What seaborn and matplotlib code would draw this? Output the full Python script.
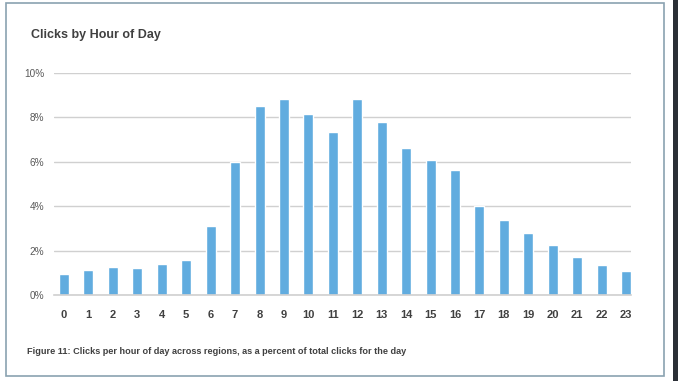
import matplotlib
matplotlib.use("Agg")
import matplotlib.pyplot as plt
from matplotlib.patches import Rectangle
from matplotlib.ticker import FuncFormatter
import pandas as pd
import seaborn as sns

# data
hours = list(range(24))
clicks_pct = [0.96, 1.13, 1.26, 1.23, 1.38, 1.58, 3.11, 6.0, 8.5, 8.84, 8.17, 7.34,
              8.84, 7.79, 6.62, 6.07, 5.63, 4.01, 3.38, 2.78, 2.27, 1.71, 1.34, 1.08]
y_ticks = [0, 2, 4, 6, 8, 10]

title = "Clicks by Hour of Day"
caption = "Figure 11: Clicks per hour of day across regions, as a percent of total clicks for the day"

df = pd.DataFrame({"hour": hours, "pct": clicks_pct})

sns.set_style("white")
plt.rcParams["font.family"] = ["Liberation Sans", "DejaVu Sans"]

fig = plt.figure(figsize=(6.78, 3.81), dpi=100)
ax = fig.add_axes([54 / 678, 1 - 295 / 381, (631 - 54) / 678, (295 - 73) / 381])

sns.barplot(data=df, x="hour", y="pct", color="#61acdf", width=0.41,
            saturation=1, ax=ax)

ax.set_ylim(0, 10)
ax.set_xlim(-0.41, 23.2)
ax.set_yticks(y_ticks)
ax.yaxis.set_major_formatter(FuncFormatter(lambda v, p: f"{v:.0f}%"))
ax.set_xlabel("")
ax.set_ylabel("")
ax.grid(axis="y", color="#d0d0d0", linewidth=1)
ax.set_axisbelow(True)
for s in ["top", "right", "left"]:
    ax.spines[s].set_visible(False)
ax.spines["bottom"].set_color("#d0d0d0")
ax.spines["bottom"].set_linewidth(1.2)
ax.tick_params(axis="y", length=0, pad=7, labelsize=7.2, labelcolor="#595959")
ax.tick_params(axis="x", length=0, pad=11, labelsize=8, labelcolor="#404040")
for lab in ax.get_xticklabels():
    lab.set_fontweight("bold")

fig.text(31 / 678, 1 - 35 / 381, title, fontsize=9, fontweight="bold",
         color="#404040", va="center", ha="left")
fig.text(27 / 678, 1 - 352 / 381, caption, fontsize=6.6, fontweight="bold",
         color="#404040", va="center", ha="left")

# outer frame
fig.patches.append(Rectangle((6 / 678, 1 - 376 / 381), (664 - 6) / 678, (376 - 3) / 381,
                             transform=fig.transFigure, fill=False,
                             edgecolor="#8aa2b0", linewidth=1.2))
# dark strip at the right edge of the screenshot
fig.patches.append(Rectangle((673 / 678, 0), 5 / 678, 1, transform=fig.transFigure,
                             facecolor="#2b2f36", edgecolor="none"))

fig.savefig("out.png", dpi=100)
